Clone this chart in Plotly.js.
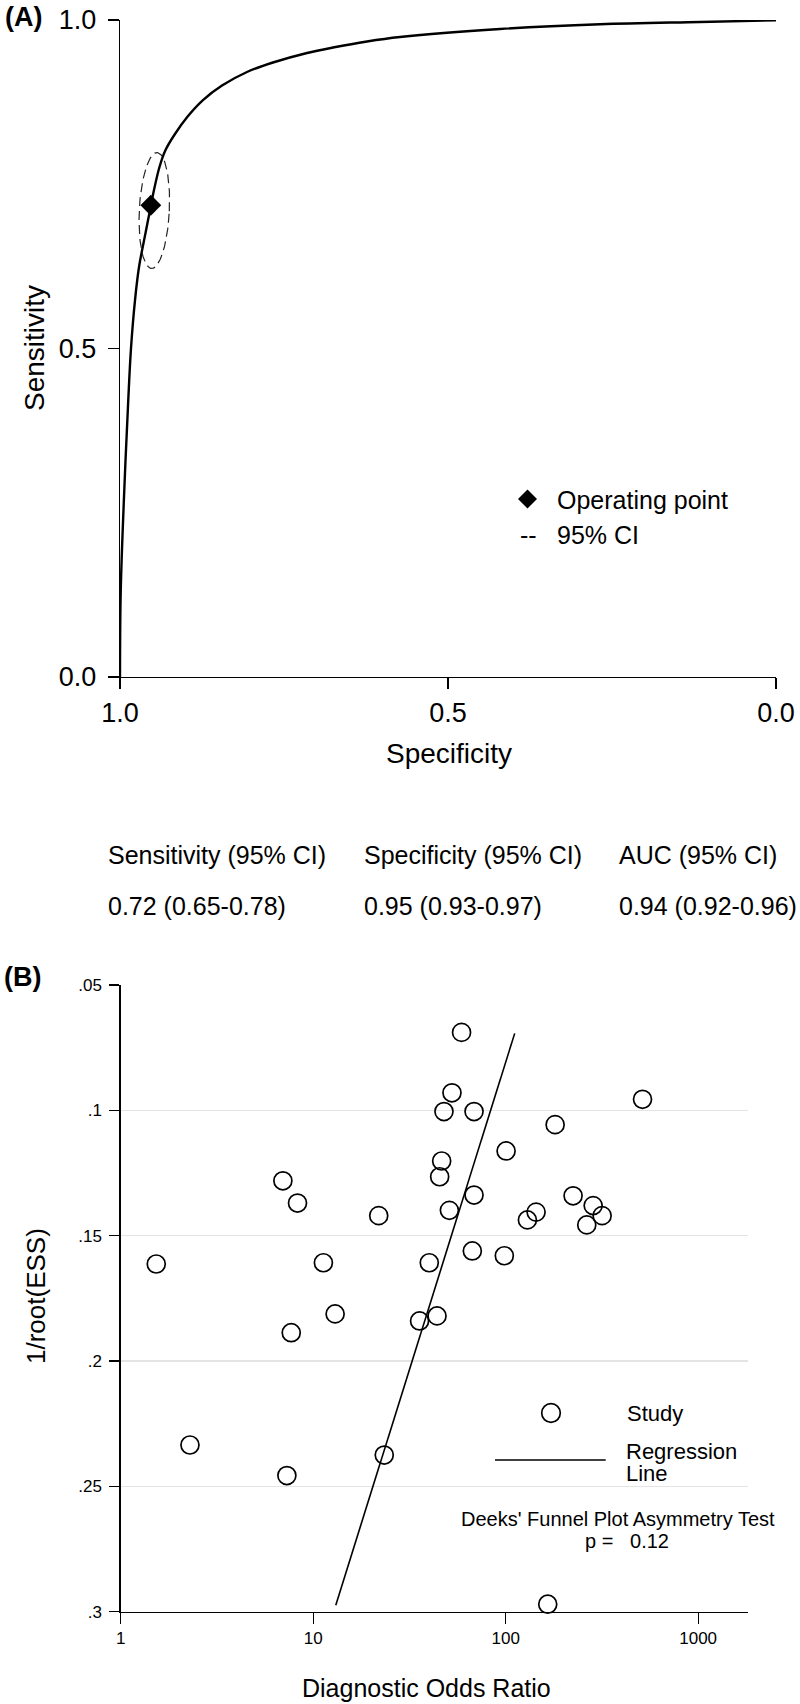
<!DOCTYPE html>
<html>
<head>
<meta charset="utf-8">
<script src="https://cdn.plot.ly/plotly-3.0.1.min.js"></script>
<style>html,body{margin:0;padding:0;background:#fff}#chart{width:800px;height:1704px}</style>
</head>
<body>
<div id="chart"></div>
<script>
// ---------- Panel A data (SROC) ----------
const rocSpecificity = [1, 0.9989, 0.9939, 0.9874, 0.9832, 0.9771, 0.9710, 0.9611, 0.9527, 0.9482, 0.9398, 0.9306, 0.9162, 0.8963, 0.8735, 0.8445, 0.8064, 0.7668, 0.7149, 0.6753, 0.6235, 0.5732, 0.4207, 0.2683, 0.1159, 0.0];
const rocSensitivity = [0, 0.1294, 0.2740, 0.4216, 0.5008, 0.5738, 0.6241, 0.6758, 0.7184, 0.7413, 0.7763, 0.8021, 0.8265, 0.8539, 0.8782, 0.9003, 0.9209, 0.9353, 0.9498, 0.9581, 0.9673, 0.9741, 0.9863, 0.9935, 0.9970, 0.9995];
const opSpecificity = [0.953];
const opSensitivity = [0.718];
// 95% confidence ellipse: centre, semi-axes (specificity, sensitivity), tilt in degrees
const ciCentre = {spec: 0.9477, sens: 0.710};
const ciSemiAxes = {spec: 0.0229, sens: 0.0883};
const ciTiltDeg = 2.8;
const statHeaders = ["Sensitivity (95% CI)", "Specificity (95% CI)", "AUC (95% CI)"];
const statValues = ["0.72 (0.65-0.78)", "0.95 (0.93-0.97)", "0.94 (0.92-0.96)"];
const rocTicks = [1, 0.5, 0];
const rocTickText = ["1.0", "0.5", "0.0"];
const rocYTicks = [0, 0.5, 1];
const rocYTickText = ["0.0", "0.5", "1.0"];

// ---------- Panel B data (Deeks funnel) ----------
const studyDOR = [6.96, 8.29, 21.9, 1.53, 11.3, 13.0, 7.69, 2.29, 7.30, 23.4,
  59.0, 52.6, 47.8, 68.5, 514, 180.7, 100.5, 46.5, 45.4, 68.5, 224, 51.0, 143.9, 129.7,
  284.8, 317, 263.8, 1822, 67.1, 98.4, 40.1, 35.7, 44.0, 165.4];
const studyInvRootESS = [0.1281, 0.137, 0.142, 0.1613, 0.1608, 0.1812, 0.1887, 0.2335, 0.2457, 0.2375,
  0.0689, 0.093, 0.1005, 0.1005, 0.0956, 0.1057, 0.1162, 0.1202, 0.1265, 0.1338, 0.1341, 0.1399, 0.1406, 0.1437,
  0.138, 0.142, 0.1457, 0.1521, 0.1561, 0.158, 0.1608, 0.184, 0.182, 0.297];
const regDOR = [13.1, 111.4];
const regInvRootESS = [0.2974, 0.0693];
const funnelXTicks = [1, 10, 100, 1000];
const funnelXTickText = ["1", "10", "100", "1000"];
const funnelYTicks = [0.05, 0.1, 0.15, 0.2, 0.25, 0.3];
const funnelYTickText = [".05", ".1", ".15", ".2", ".25", ".3"];
const pValue = "0.12";

// ---------- build ----------
const FONT = "Liberation Sans, Arial, Helvetica, sans-serif";
const W = 800, H = 1704;
const px = x => x / W;
const py = y => 1 - y / H;

// ellipse outline from centre / semi-axes / tilt
const ellSpec = [], ellSens = [];
const th = ciTiltDeg * Math.PI / 180;
for (let i = 0; i <= 120; i++) {
  const t = 2 * Math.PI * i / 120;
  const u = ciSemiAxes.spec * Math.cos(t);
  const v = ciSemiAxes.sens * Math.sin(t);
  const dFpr = u * Math.cos(th) + v * Math.sin(th);
  const dSens = -u * Math.sin(th) + v * Math.cos(th);
  ellSpec.push(ciCentre.spec - dFpr);
  ellSens.push(ciCentre.sens + dSens);
}

const traces = [
  {x: rocSpecificity, y: rocSensitivity, xaxis: 'x', yaxis: 'y', mode: 'lines',
   line: {color: '#000', width: 2.4, shape: 'spline', smoothing: 1}, hoverinfo: 'skip'},
  {x: ellSpec, y: ellSens, xaxis: 'x', yaxis: 'y', mode: 'lines',
   line: {color: '#222', width: 1.2, dash: '9px,5px'}, hoverinfo: 'skip'},
  {x: opSpecificity, y: opSensitivity, xaxis: 'x', yaxis: 'y', mode: 'markers',
   marker: {symbol: 'diamond', size: 16, color: '#000'}},
  {x: regDOR, y: regInvRootESS, xaxis: 'x2', yaxis: 'y2', mode: 'lines',
   line: {color: '#000', width: 1.6}},
  {x: studyDOR, y: studyInvRootESS, xaxis: 'x2', yaxis: 'y2', mode: 'markers', cliponaxis: false,
   marker: {symbol: 'circle-open', size: 18, color: '#000', line: {width: 1.7, color: '#000'}}}
];

const axBase = {showline: true, linecolor: '#000', linewidth: 1.3, ticks: 'outside', tickcolor: '#000',
  tickwidth: 1.3, showgrid: false, zeroline: false, fixedrange: true};

const layout = {
  width: W, height: H, margin: {l: 0, r: 0, t: 0, b: 0},
  paper_bgcolor: '#fff', plot_bgcolor: '#fff', showlegend: false,
  font: {family: FONT, color: '#000'},
  xaxis: Object.assign({}, axBase, {domain: [px(120), px(776)], anchor: 'y', range: [1, 0],
    tickmode: 'array', tickvals: rocTicks, ticktext: rocTickText, ticklen: 11,
    tickfont: {size: 27, family: FONT}}),
  yaxis: Object.assign({}, axBase, {domain: [py(677), py(20)], anchor: 'x', range: [0, 1],
    tickmode: 'array', tickvals: rocYTicks, ticktext: rocYTickText, ticklen: 11, ticklabelstandoff: 6,
    tickfont: {size: 27, family: FONT}}),
  xaxis2: Object.assign({}, axBase, {domain: [px(120.7), px(748.3)], anchor: 'y2', type: 'log',
    range: [0, 3.2605], tickmode: 'array', tickvals: funnelXTicks, ticktext: funnelXTickText, ticklen: 11,
    tickfont: {size: 17, family: FONT}}),
  yaxis2: Object.assign({}, axBase, {domain: [py(1611.7), py(985)], anchor: 'x2', range: [0.3, 0.05],
    tickmode: 'array', tickvals: funnelYTicks, ticktext: funnelYTickText, ticklen: 10, ticklabelstandoff: 4,
    showgrid: true, gridcolor: '#e4e4e4', gridwidth: 1.6,
    tickfont: {size: 17, family: FONT}}),
  annotations: [],
  shapes: []
};

function ann(text, x, y, size, opts) {
  layout.annotations.push(Object.assign({text: text, xref: 'paper', yref: 'paper', x: px(x), y: py(y),
    xanchor: 'center', yanchor: 'middle', showarrow: false, font: {size: size, family: FONT, color: '#000'}}, opts || {}));
}

// panel labels
ann('<b>(A)</b>', 23, 17, 27);
ann('<b>(B)</b>', 22, 977, 27);
// axis titles
ann('Sensitivity', 35, 348, 28, {textangle: -90});
ann('Specificity', 449, 753, 28);
ann('1/root(ESS)', 36, 1296, 26, {textangle: -90});
ann('Diagnostic Odds Ratio', 426, 1688, 25);
// legend A
ann('Operating point', 555, 500, 25, {xanchor: 'left'});
ann('--', 518, 535, 25, {xanchor: 'left'});
ann('95% CI', 555, 535, 25, {xanchor: 'left'});
const dcx = 527.5, dcy = 499, dd = 9.5;
layout.shapes.push({type: 'path', xref: 'paper', yref: 'paper', fillcolor: '#000', line: {width: 0},
  path: `M ${px(dcx - dd)},${py(dcy)} L ${px(dcx)},${py(dcy - dd)} L ${px(dcx + dd)},${py(dcy)} L ${px(dcx)},${py(dcy + dd)} Z`});
// stats table
const statX = [106, 362, 617];
statHeaders.forEach((t, i) => ann(t, statX[i], 855, 25, {xanchor: 'left'}));
statValues.forEach((t, i) => ann(t, statX[i], 906, 25, {xanchor: 'left'}));
// legend B
layout.shapes.push({type: 'circle', xref: 'paper', yref: 'paper', line: {color: '#000', width: 1.7},
  x0: px(551 - 9.3), x1: px(551 + 9.3), y0: py(1413 + 9.3), y1: py(1413 - 9.3)});
layout.shapes.push({type: 'line', xref: 'paper', yref: 'paper', line: {color: '#000', width: 1.6},
  x0: px(495), x1: px(605.7), y0: py(1460), y1: py(1460)});
ann('Study', 625, 1413, 22, {xanchor: 'left'});
ann('Regression', 624, 1451, 22, {xanchor: 'left'});
ann('Line', 624, 1473, 22, {xanchor: 'left'});
ann("Deeks' Funnel Plot Asymmetry Test", 618, 1519, 20);
ann('p =\u00a0\u00a0\u00a0' + pValue, 627, 1541, 20);

Plotly.newPlot('chart', traces, layout, {staticPlot: true, displayModeBar: false});
</script>
</body>
</html>
